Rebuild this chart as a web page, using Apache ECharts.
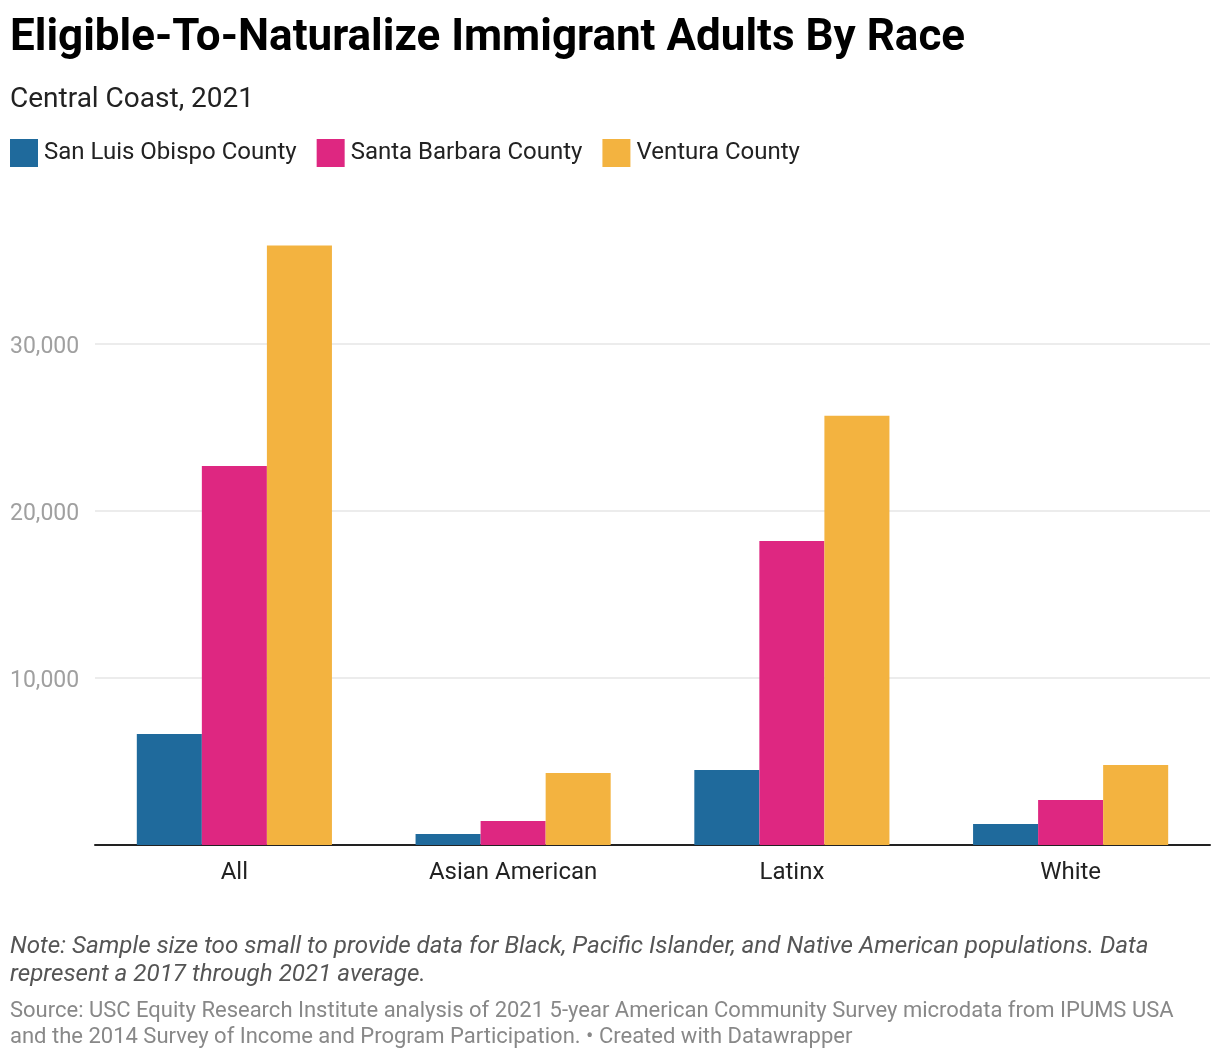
<!DOCTYPE html>
<html>
<head>
<meta charset="utf-8">
<script src="https://cdn.jsdelivr.net/npm/echarts@6/dist/echarts.min.js"></script>
<style>
html,body{margin:0;padding:0;background:#fff;}
#chart{width:1220px;height:1060px;}
</style>
</head>
<body>
<div id="chart"></div>
<script>
const categories = ['All', 'Asian American', 'Latinx', 'White'];
const seriesNames = ['San Luis Obispo County', 'Santa Barbara County', 'Ventura County'];
const sloValues = [6650, 660, 4490, 1260];
const sbValues = [22700, 1440, 18200, 2700];
const venturaValues = [35900, 4310, 25700, 4790];
const yTicks = [0, 10000, 20000, 30000, 40000];
const colors = ['#1f6a9c', '#de2781', '#f3b340'];

const FONT = 'Roboto, "Noto Sans", sans-serif';
const chart = echarts.init(document.getElementById('chart'), null, {renderer: 'canvas'});
const valuesList = [sloValues, sbValues, venturaValues];

chart.setOption({
  animation: false,
  textStyle: {fontFamily: FONT},
  color: colors,
  title: [
    {text: 'Eligible-To-Naturalize Immigrant Adults By Race', left: 10, top: 17, padding: 0,
      textStyle: {fontFamily: FONT, fontSize: 44, fontWeight: 'bold', color: '#000'}},
    {text: 'Central Coast, 2021', left: 10, top: 86, padding: 0,
      textStyle: {fontFamily: FONT, fontSize: 28, fontWeight: 'normal', color: '#222'}},
    {text: 'Note: Sample size too small to provide data for Black, Pacific Islander, and Native American populations. Data\nrepresent a 2017 through 2021 average.',
      left: 10, top: 933, padding: 0,
      textStyle: {fontFamily: FONT, fontSize: 24.2, fontStyle: 'italic', fontWeight: 'normal', color: '#555', lineHeight: 28}},
    {text: 'Source: USC Equity Research Institute analysis of 2021 5-year American Community Survey microdata from IPUMS USA\nand the 2014 Survey of Income and Program Participation. \u2022 Created with Datawrapper',
      left: 10, top: 998, padding: 0,
      textStyle: {fontFamily: FONT, fontSize: 22, fontWeight: 'normal', color: '#888', lineHeight: 26}}
  ],
  legend: {
    left: 10, top: 139, padding: 0,
    itemWidth: 28, itemHeight: 28, itemGap: 20,
    icon: 'rect',
    data: seriesNames,
    textStyle: {fontFamily: FONT, fontSize: 24, color: '#222', padding: [0, 0, 0, 1]}
  },
  grid: {left: 95, right: 10, top: 177, bottom: 215, containLabel: false},
  xAxis: {
    type: 'category',
    data: categories,
    axisLine: {show: true, lineStyle: {color: '#222', width: 2}},
    axisTick: {show: false},
    axisLabel: {fontFamily: FONT, fontSize: 24, color: '#222', margin: 16}
  },
  yAxis: {
    type: 'value',
    min: yTicks[0], max: yTicks[yTicks.length - 1], interval: 10000,
    axisLine: {show: false},
    axisTick: {show: false},
    axisLabel: {
      fontFamily: FONT, fontSize: 23, color: '#a0a0a0', align: 'left', margin: 85,
      formatter: function (v) {
        if (v === 0 || v === yTicks[yTicks.length - 1]) return '';
        return '{a|' + v.toLocaleString('en-US') + '}';
      },
      rich: {
        a: {fontFamily: FONT, fontSize: 23, color: '#a0a0a0', padding: [6, 0, 0, 0]}
      }
    },
    splitLine: {lineStyle: {color: ['#e6e6e6', '#e6e6e6', '#e6e6e6', '#e6e6e6', 'rgba(0,0,0,0)'], width: 1.5}}
  },
  series: seriesNames.map(function (name, i) {
    return {
      name: name,
      type: 'bar',
      data: valuesList[i],
      barGap: '0%',
      barCategoryGap: '30%',
      itemStyle: {color: colors[i]}
    };
  })
});
</script>
</body>
</html>
